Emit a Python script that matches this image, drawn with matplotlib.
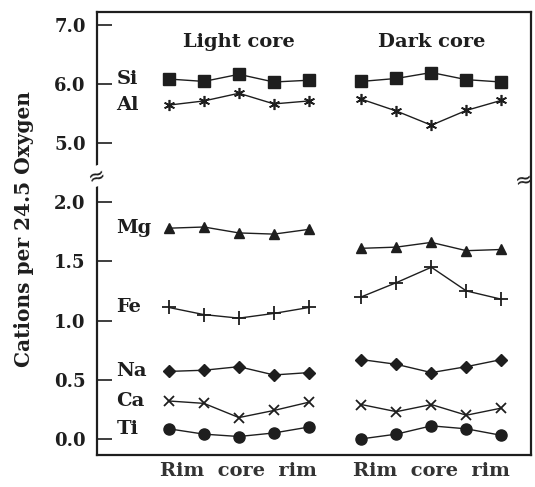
import numpy as np
import matplotlib
matplotlib.use("Agg")
import matplotlib.pyplot as plt
from matplotlib.ticker import FixedLocator, FixedFormatter

# profile positions: Rim core rim for each grain
light_x = [0, 1, 2, 3, 4]
dark_x = [5.5, 6.5, 7.5, 8.5, 9.5]

si_light = [6.08, 6.04, 6.16, 6.03, 6.06]
si_dark = [6.04, 6.09, 6.19, 6.07, 6.03]
al_light = [5.64, 5.71, 5.84, 5.66, 5.71]
al_dark = [5.74, 5.54, 5.30, 5.55, 5.72]
mg_light = [1.78, 1.79, 1.74, 1.73, 1.77]
mg_dark = [1.61, 1.62, 1.66, 1.59, 1.60]
fe_light = [1.11, 1.05, 1.02, 1.06, 1.11]
fe_dark = [1.20, 1.32, 1.45, 1.25, 1.18]
na_light = [0.57, 0.58, 0.61, 0.54, 0.56]
na_dark = [0.67, 0.63, 0.56, 0.61, 0.67]
ca_light = [0.32, 0.30, 0.18, 0.24, 0.31]
ca_dark = [0.29, 0.23, 0.29, 0.20, 0.26]
ti_light = [0.085, 0.04, 0.02, 0.05, 0.10]
ti_dark = [0.0, 0.04, 0.11, 0.085, 0.03]

y_ticks = [0.0, 0.5, 1.0, 1.5, 2.0, 5.0, 6.0, 7.0]
y_ticklabels = ["0.0", "0.5", "1.0", "1.5", "2.0", "5.0", "6.0", "7.0"]

# broken axis: lower part at full scale, upper part (Si, Al) at half scale
BREAK = 2.22


def fwd(v):
    v = np.asarray(v, dtype=float)
    return np.where(v <= BREAK, v, np.maximum(v / 2.0, BREAK))


def inv(y):
    y = np.asarray(y, dtype=float)
    return np.where(y <= BREAK, y, 2.0 * y)


series = [
    ("Si", si_light, si_dark, dict(marker="s", markersize=8)),
    ("Al", al_light, al_dark, dict(marker=(6, 2, 0), markersize=8, markeredgewidth=1.2)),
    ("Mg", mg_light, mg_dark, dict(marker="^", markersize=7)),
    ("Fe", fe_light, fe_dark, dict(marker="+", markersize=10, markeredgewidth=1.3)),
    ("Na", na_light, na_dark, dict(marker="D", markersize=6)),
    ("Ca", ca_light, ca_dark, dict(marker="x", markersize=7, markeredgewidth=1.3)),
    ("Ti", ti_light, ti_dark, dict(marker="o", markersize=8)),
]

ink = "#1e1e1e"
serif = "DejaVu Serif"

fig = plt.figure(figsize=(5.35, 4.87), dpi=100)
ax = fig.add_axes([0.181, 0.066, 0.811, 0.909])
ax.set_yscale("function", functions=(fwd, inv))

for name, light, dark, style in series:
    for xs, ys in ((light_x, light), (dark_x, dark)):
        ax.plot(xs, ys, color=ink, linewidth=1.0, markerfacecolor=ink,
                markeredgecolor=ink, **style)
    ax.text(-1.5, light[0], name, ha="left", va="center", fontsize=14,
            fontweight="bold", family=serif, color=ink)

ax.set_xlim(-2.06, 10.34)
ax.set_ylim(-0.135, 7.21)
ax.yaxis.set_major_locator(FixedLocator(y_ticks))
ax.yaxis.set_major_formatter(FixedFormatter(y_ticklabels))
ax.yaxis.set_minor_locator(FixedLocator([]))
ax.set_xticks([])
ax.tick_params(axis="y", direction="in", length=11, width=1.2, pad=8,
               labelsize=13, colors=ink)
for lab in ax.get_yticklabels():
    lab.set_fontweight("bold")
    lab.set_family(serif)

for side in ax.spines.values():
    side.set_linewidth(1.6)
    side.set_color(ink)

ax.text(2, 6.7, "Light core", ha="center", va="center", fontsize=14,
        fontweight="bold", family=serif, color=ink)
ax.text(7.5, 6.7, "Dark core", ha="center", va="center", fontsize=14,
        fontweight="bold", family=serif, color=ink)

trans = ax.get_xaxis_transform()
for cx in (2, 7.5):
    ax.text(cx, -0.036, "Rim  core  rim", transform=trans, ha="center",
            va="center", fontsize=14, fontweight="bold", family=serif,
            color="#333333")

# break marks on both vertical spines
ax.text(0.0, 0.63, "≈", transform=ax.transAxes, ha="center", va="center",
        fontsize=15, color=ink, rotation=20, clip_on=False,
        bbox=dict(facecolor="white", edgecolor="none", pad=0.0))
ax.text(0.983, 0.62, "≈", transform=ax.transAxes, ha="center", va="center",
        fontsize=15, color=ink, rotation=10, clip_on=False)

fig.text(0.045, 0.53, "Cations per 24.5 Oxygen", rotation=90, ha="center",
         va="center", fontsize=14.5, fontweight="bold", family=serif, color=ink)

fig.savefig("out.png", dpi=100)
